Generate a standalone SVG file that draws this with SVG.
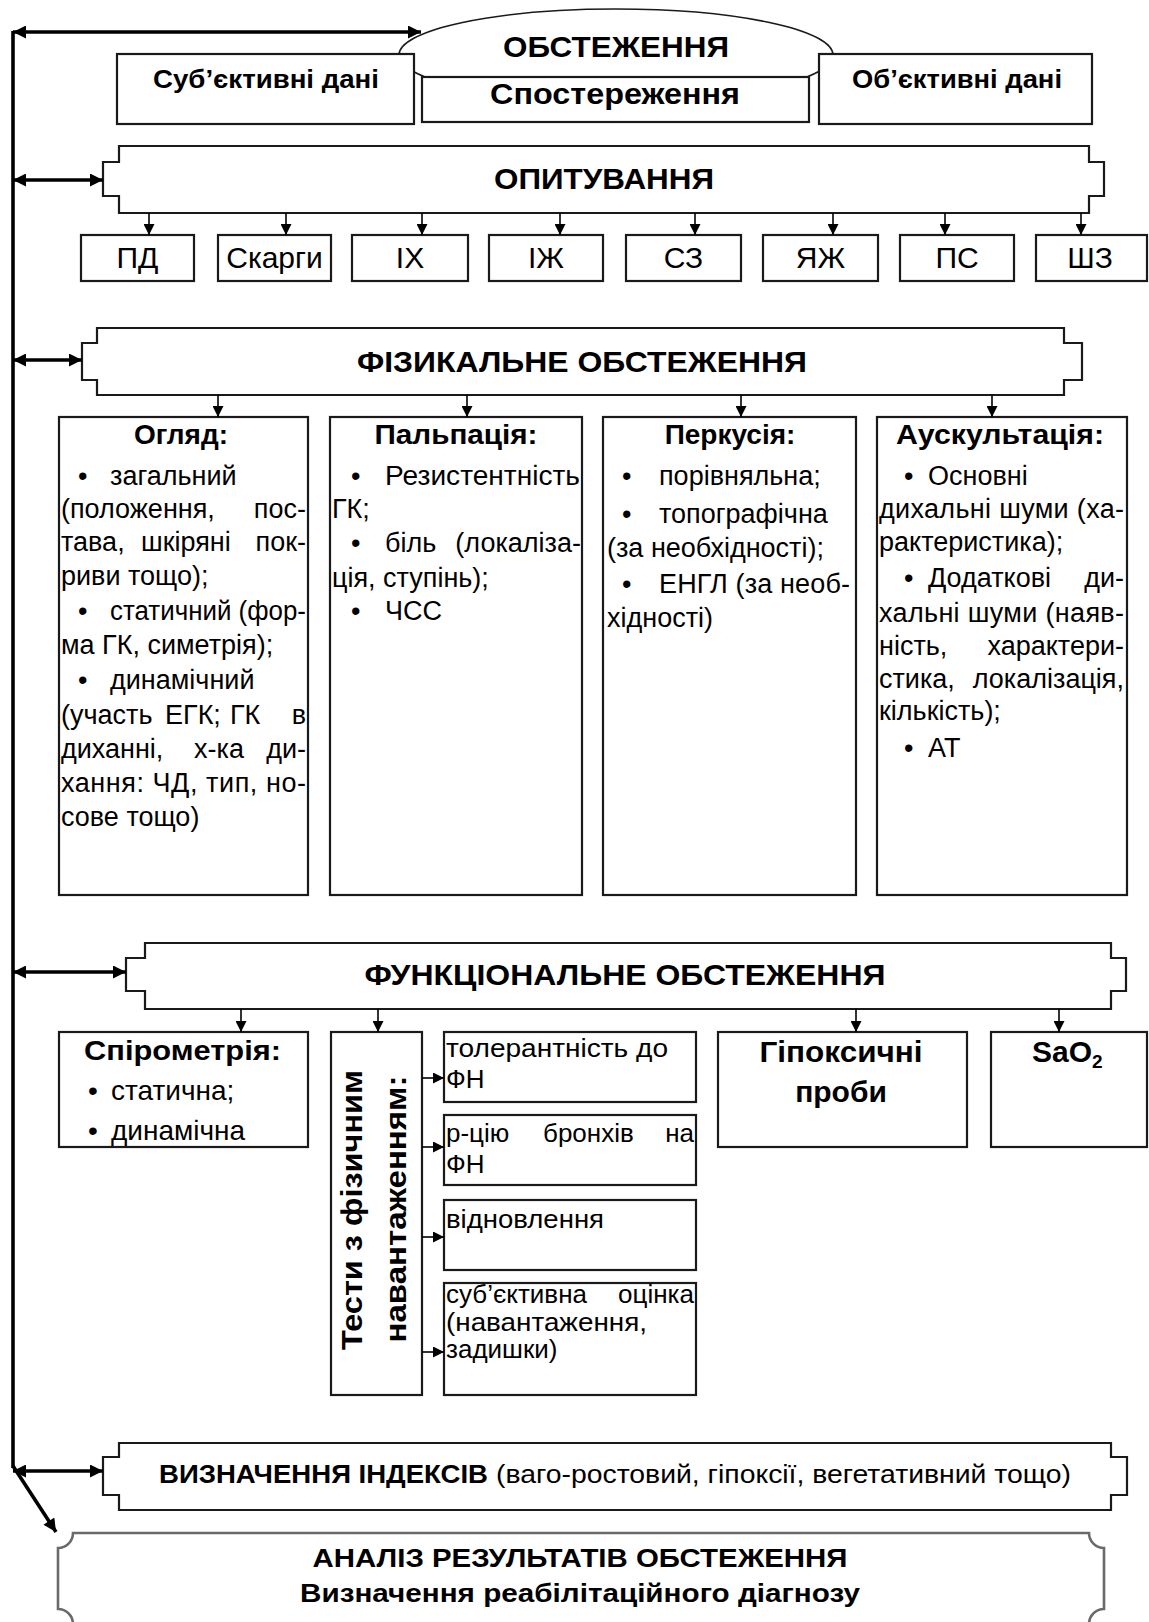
<svg xmlns="http://www.w3.org/2000/svg" width="1149" height="1622" viewBox="0 0 1149 1622">
<style>
text{font-family:"Liberation Sans",Arial,sans-serif;fill:#000}
.box{fill:#fff;stroke:#1a1a1a;stroke-width:2.2}
.bold{font-weight:bold}
.hd{font-size:30px;font-weight:bold}
.lbl{font-size:30px;text-anchor:middle}
.t27{font-size:27px}
.t26{font-size:26px}
.mid{text-anchor:middle}
.end{text-anchor:end}
.thick{stroke:#000;stroke-width:3.6;fill:none}
.thin{stroke:#000;stroke-width:1.6;fill:none}
</style>
<defs>
<marker id="big" viewBox="0 0 10 10" refX="10" refY="5" markerWidth="16" markerHeight="13" markerUnits="userSpaceOnUse" orient="auto-start-reverse"><path d="M0,0 L10,5 L0,10 z" fill="#000"/></marker>
<marker id="sm" viewBox="0 0 10 10" refX="10" refY="5" markerWidth="11" markerHeight="11" markerUnits="userSpaceOnUse" orient="auto"><path d="M0,0 L10,5 L0,10 z" fill="#000"/></marker>
</defs>
<rect width="1149" height="1622" fill="#fff"/>

<g id="obstezhennya">
<ellipse cx="616" cy="55" rx="217" ry="46" fill="#fff" stroke="#1a1a1a" stroke-width="1.6"/>
<text class="hd mid" x="616" y="57" textLength="226" lengthAdjust="spacingAndGlyphs">ОБСТЕЖЕННЯ</text>
</g>
<g id="subj">
<rect class="box" x="117" y="54" width="297" height="70"/>
<text class="bold mid" style="font-size:25px" x="266" y="88" textLength="226" lengthAdjust="spacingAndGlyphs">Суб’єктивні дані</text>
</g>
<g id="sposter">
<rect class="box" x="422" y="77" width="387" height="45"/>
<text class="bold mid" style="font-size:29px" x="615" y="104" textLength="250" lengthAdjust="spacingAndGlyphs">Спостереження</text>
</g>
<g id="obj">
<rect class="box" x="819" y="54" width="273" height="70"/>
<text class="bold mid" style="font-size:25px" x="957" y="88" textLength="210" lengthAdjust="spacingAndGlyphs">Об’єктивні дані</text>
</g>

<g id="opytuvannya">
<path class="box" d="M119,146 H1089 V162 H1104 V196 H1089 V213 H119 V196 H103 V162 H119 Z"/>
<text class="hd mid" x="604" y="189" textLength="220" lengthAdjust="spacingAndGlyphs">ОПИТУВАННЯ</text>
</g>
<g id="pd"><rect class="box" x="81" y="235" width="113" height="46"/><text class="lbl" x="137.5" y="268">ПД</text></g>
<g id="skargy"><rect class="box" x="218" y="235" width="113" height="46"/><text class="lbl" x="274.5" y="268">Скарги</text></g>
<g id="ih"><rect class="box" x="352" y="235" width="116" height="46"/><text class="lbl" x="410" y="268">ІХ</text></g>
<g id="izh"><rect class="box" x="489" y="235" width="114" height="46"/><text class="lbl" x="546" y="268">ІЖ</text></g>
<g id="sz"><rect class="box" x="626" y="235" width="115" height="46"/><text class="lbl" x="683.5" y="268">СЗ</text></g>
<g id="yazh"><rect class="box" x="763" y="235" width="115" height="46"/><text class="lbl" x="820.5" y="268">ЯЖ</text></g>
<g id="ps"><rect class="box" x="900" y="235" width="114" height="46"/><text class="lbl" x="957" y="268">ПС</text></g>
<g id="shz"><rect class="box" x="1036" y="235" width="111" height="46"/><text class="lbl" x="1090" y="268">ШЗ</text></g>

<g id="fizykalne">
<path class="box" d="M97,328 H1064 V343 H1082 V380 H1064 V395 H97 V380 H82 V343 H97 Z"/>
<text class="hd mid" x="582" y="372" textLength="450" lengthAdjust="spacingAndGlyphs">ФІЗИКАЛЬНЕ ОБСТЕЖЕННЯ</text>
</g>

<g id="ohliad" class="t27">
<rect class="box" x="59" y="417" width="249" height="478"/>
<text class="bold mid" style="font-size:28px" x="181" y="444">Огляд:</text>
<text x="78" y="485">•</text><text x="110" y="485">загальний</text>
<text x="61" y="518">(положення,</text><text class="end" x="306" y="518">пос-</text>
<text x="61" y="551">тава,</text><text x="141" y="551">шкіряні</text><text class="end" x="306" y="551">пок-</text>
<text x="61" y="585">риви тощо);</text>
<text x="78" y="620">•</text><text x="110" y="620" textLength="196" lengthAdjust="spacingAndGlyphs">статичний (фор-</text>
<text x="61" y="654">ма ГК, симетрія);</text>
<text x="78" y="689">•</text><text x="110" y="689">динамічний</text>
<text x="61" y="724">(участь</text><text x="165" y="724">ЕГК;</text><text x="230" y="724">ГК</text><text class="end" x="306" y="724">в</text>
<text x="61" y="758">диханні,</text><text x="194" y="758">х-ка</text><text class="end" x="306" y="758">ди-</text>
<text x="61" y="792" textLength="245" lengthAdjust="spacing">хання: ЧД, тип, но-</text>
<text x="61" y="826">сове тощо)</text>
</g>

<g id="palpatsiya" class="t27">
<rect class="box" x="330" y="417" width="252" height="478"/>
<text class="bold mid" style="font-size:28px" x="456" y="444" textLength="163" lengthAdjust="spacingAndGlyphs">Пальпація:</text>
<text x="351" y="485">•</text><text x="385" y="485" textLength="195" lengthAdjust="spacingAndGlyphs">Резистентність</text>
<text x="332" y="518">ГК;</text>
<text x="351" y="552">•</text><text x="385" y="552">біль</text><text class="end" x="581" y="552">(локаліза-</text>
<text x="332" y="587">ція, ступінь);</text>
<text x="351" y="620">•</text><text x="385" y="620">ЧСС</text>
</g>

<g id="perkusiya" class="t27">
<rect class="box" x="603" y="417" width="253" height="478"/>
<text class="bold mid" style="font-size:28px" x="730" y="444">Перкусія:</text>
<text x="622" y="485">•</text><text x="659" y="485">порівняльна;</text>
<text x="622" y="523">•</text><text x="659" y="523">топографічна</text>
<text x="607" y="557">(за необхідності);</text>
<text x="622" y="593">•</text><text x="659" y="593" textLength="191" lengthAdjust="spacing">ЕНГЛ (за необ-</text>
<text x="607" y="627">хідності)</text>
</g>

<g id="auskultatsiya" class="t27">
<rect class="box" x="877" y="417" width="250" height="478"/>
<text class="bold mid" style="font-size:28px" x="1000" y="444" textLength="208" lengthAdjust="spacingAndGlyphs">Аускультація:</text>
<text x="904" y="485">•</text><text x="928" y="485">Основні</text>
<text x="879" y="518" textLength="245" lengthAdjust="spacing">дихальні шуми (ха-</text>
<text x="879" y="551">рактеристика);</text>
<text x="904" y="587">•</text><text x="928" y="587">Додаткові</text><text class="end" x="1124" y="587">ди-</text>
<text x="879" y="622" textLength="245" lengthAdjust="spacing">хальні шуми (наяв-</text>
<text x="879" y="655">ність,</text><text class="end" x="1124" y="655">характери-</text>
<text x="879" y="688">стика,</text><text class="end" x="1124" y="688">локалізація,</text>
<text x="879" y="720">кількість);</text>
<text x="904" y="757">•</text><text x="928" y="757">АТ</text>
</g>

<g id="funktsionalne">
<path class="box" d="M145,943 H1111 V958 H1126 V991 H1111 V1009 H145 V991 H126 V958 H145 Z"/>
<text class="hd mid" x="625" y="985" textLength="521" lengthAdjust="spacingAndGlyphs">ФУНКЦІОНАЛЬНЕ ОБСТЕЖЕННЯ</text>
</g>

<g id="spirometriya">
<rect class="box" x="59" y="1032" width="249" height="115"/>
<text class="bold" style="font-size:28px" x="84" y="1060" textLength="197" lengthAdjust="spacingAndGlyphs">Спірометрія:</text>
<text style="font-size:28px" x="88" y="1100">•</text><text style="font-size:28px" x="111" y="1100">статична;</text>
<text style="font-size:28px" x="88" y="1140">•</text><text style="font-size:28px" x="111" y="1140">динамічна</text>
</g>

<g id="testy">
<rect class="box" x="331" y="1032" width="91" height="363"/>
<text class="hd mid" transform="translate(362,1210) rotate(-90)" textLength="280" lengthAdjust="spacingAndGlyphs">Тести з фізичним</text>
<text class="hd mid" transform="translate(406,1209) rotate(-90)" textLength="267" lengthAdjust="spacingAndGlyphs">навантаженням:</text>
</g>

<g id="tolerantnist" class="t26">
<rect class="box" x="444" y="1032" width="252" height="70"/>
<text x="446" y="1057" textLength="222" lengthAdjust="spacingAndGlyphs">толерантність до</text>
<text x="446" y="1088">ФН</text>
</g>
<g id="rtsiyu" class="t26">
<rect class="box" x="444" y="1115" width="252" height="70"/>
<text x="446" y="1142">р-цію</text><text x="543" y="1142">бронхів</text><text class="end" x="694" y="1142">на</text>
<text x="446" y="1173">ФН</text>
</g>
<g id="vidnovlennya" class="t26">
<rect class="box" x="444" y="1200" width="252" height="70"/>
<text x="446" y="1228" textLength="158" lengthAdjust="spacingAndGlyphs">відновлення</text>
</g>
<g id="subotsinka" class="t26">
<rect class="box" x="444" y="1283" width="252" height="112"/>
<text x="446" y="1303">суб’єктивна</text><text class="end" x="694" y="1303">оцінка</text>
<text x="446" y="1331" textLength="201" lengthAdjust="spacingAndGlyphs">(навантаження,</text>
<text x="446" y="1358">задишки)</text>
</g>

<g id="hipoksychni">
<rect class="box" x="718" y="1032" width="249" height="115"/>
<text class="hd mid" x="841" y="1062" textLength="163" lengthAdjust="spacingAndGlyphs">Гіпоксичні</text>
<text class="hd mid" x="841" y="1102">проби</text>
</g>
<g id="sao2">
<rect class="box" x="991" y="1032" width="156" height="115"/>
<text class="hd" x="1032" y="1062">SaO<tspan style="font-size:19px" dy="6">2</tspan></text>
</g>

<g id="indeksy">
<path class="box" d="M119,1443 H1111 V1457 H1127 V1495 H1111 V1510 H119 V1495 H103 V1457 H119 Z"/>
<text style="font-size:26px" x="159" y="1483"><tspan class="bold" textLength="329" lengthAdjust="spacingAndGlyphs">ВИЗНАЧЕННЯ ІНДЕКСІВ</tspan><tspan x="496" textLength="575" lengthAdjust="spacingAndGlyphs">(ваго-ростовий, гіпоксії, вегетативний тощо)</tspan></text>
</g>

<g id="analiz">
<path d="M73,1533 H1089 A15,15 0 0 0 1104,1548 V1609 A15,15 0 0 0 1089,1624 H73 A15,15 0 0 0 58,1609 V1548 A15,15 0 0 0 73,1533 Z" fill="#fff" stroke="#6a6a6a" stroke-width="2.6"/>
<text class="bold mid" style="font-size:26px" x="580" y="1567" textLength="535" lengthAdjust="spacingAndGlyphs">АНАЛІЗ РЕЗУЛЬТАТІВ ОБСТЕЖЕННЯ</text>
<text class="bold mid" style="font-size:26px" x="580" y="1602" textLength="560" lengthAdjust="spacingAndGlyphs">Визначення реабілітаційного діагнозу</text>
</g>

<g id="connectors">
<line class="thick" x1="13" y1="31" x2="13" y2="1468" stroke-width="4"/>
<line class="thick" x1="13" y1="32" x2="421" y2="32" marker-start="url(#big)" marker-end="url(#big)"/>
<line class="thick" x1="13" y1="180" x2="103" y2="180" marker-start="url(#big)" marker-end="url(#big)"/>
<line class="thick" x1="13" y1="360" x2="82" y2="360" marker-start="url(#big)" marker-end="url(#big)"/>
<line class="thick" x1="13" y1="972" x2="126" y2="972" marker-start="url(#big)" marker-end="url(#big)"/>
<line class="thick" x1="13" y1="1471" x2="103" y2="1471" marker-start="url(#big)" marker-end="url(#big)"/>
<line class="thick" x1="13" y1="1466" x2="56" y2="1532" marker-end="url(#big)"/>
<g class="thin">
<line x1="149" y1="213" x2="149" y2="235" marker-end="url(#sm)"/>
<line x1="286" y1="213" x2="286" y2="235" marker-end="url(#sm)"/>
<line x1="422" y1="213" x2="422" y2="235" marker-end="url(#sm)"/>
<line x1="560" y1="213" x2="560" y2="235" marker-end="url(#sm)"/>
<line x1="695" y1="213" x2="695" y2="235" marker-end="url(#sm)"/>
<line x1="833" y1="213" x2="833" y2="235" marker-end="url(#sm)"/>
<line x1="945" y1="213" x2="945" y2="235" marker-end="url(#sm)"/>
<line x1="1081" y1="213" x2="1081" y2="235" marker-end="url(#sm)"/>
<line x1="218" y1="395" x2="218" y2="417" marker-end="url(#sm)"/>
<line x1="467" y1="395" x2="467" y2="417" marker-end="url(#sm)"/>
<line x1="741" y1="395" x2="741" y2="417" marker-end="url(#sm)"/>
<line x1="992" y1="395" x2="992" y2="417" marker-end="url(#sm)"/>
<line x1="241" y1="1009" x2="241" y2="1032" marker-end="url(#sm)"/>
<line x1="378" y1="1009" x2="378" y2="1032" marker-end="url(#sm)"/>
<line x1="856" y1="1009" x2="856" y2="1032" marker-end="url(#sm)"/>
<line x1="1059" y1="1009" x2="1059" y2="1032" marker-end="url(#sm)"/>
<line x1="422" y1="1078" x2="444" y2="1078" marker-end="url(#sm)"/>
<line x1="422" y1="1147" x2="444" y2="1147" marker-end="url(#sm)"/>
<line x1="422" y1="1237" x2="444" y2="1237" marker-end="url(#sm)"/>
<line x1="422" y1="1352" x2="444" y2="1352" marker-end="url(#sm)"/>
</g>
</g>
</svg>
